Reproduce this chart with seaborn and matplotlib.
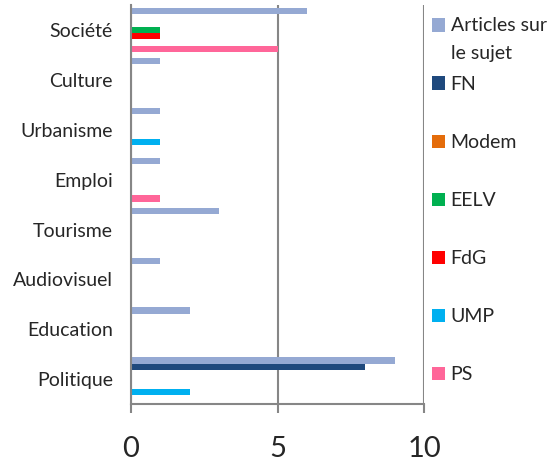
import numpy as np
import pandas as pd
import matplotlib
matplotlib.use('Agg')
import matplotlib.pyplot as plt
import matplotlib.patches as mpatches
from matplotlib.legend_handler import HandlerPatch
import seaborn as sns

# Data
categories = ["Société", "Culture", "Urbanisme", "Emploi", "Tourisme",
              "Audiovisuel", "Education", "Politique"]
series_names = ["Articles sur\nle sujet", "FN", "Modem", "EELV", "FdG", "UMP", "PS"]
articles = [6, 1, 1, 1, 3, 1, 2, 9]
fn = [0, 0, 0, 0, 0, 0, 0, 8]
modem = [0, 0, 0, 0, 0, 0, 0, 0]
eelv = [1, 0, 0, 0, 0, 0, 0, 0]
fdg = [1, 0, 0, 0, 0, 0, 0, 0]
ump = [0, 0, 1, 0, 0, 0, 0, 2]
ps = [5, 0, 0, 1, 0, 0, 0, 0]
colors = ["#95A9D3", "#1F497D", "#E46C0A", "#00B050", "#FF0000", "#00B0F0", "#FF6699"]

wide = pd.DataFrame({"categorie": categories})
for name, vals in zip(series_names, [articles, fn, modem, eelv, fdg, ump, ps]):
    wide[name] = vals
df = wide.melt(id_vars="categorie", var_name="serie", value_name="valeur")

sns.set_style("white")
plt.rcParams['font.family'] = ['Lato', 'DejaVu Sans']

fig = plt.figure(figsize=(5.55, 4.63), dpi=100)
ax = fig.add_axes([0.236, 0.127, 0.528, 0.862])

sns.barplot(data=df, x="valeur", y="categorie", hue="serie", order=categories,
            hue_order=series_names, palette=colors, orient="h", width=0.88,
            linewidth=0, saturation=1, ax=ax)

grey = "#868686"
ax.set_xlim(0, 10)
ax.set_ylim(7.5, -0.5)
ax.set_xticks([0, 5, 10])
ax.set_yticks(np.arange(-0.5, 8, 1), minor=True)
ax.set_xlabel("")
ax.set_ylabel("")
ax.xaxis.grid(True, color=grey, linewidth=1.5)
ax.set_axisbelow(True)
for s in ["top", "right"]:
    ax.spines[s].set_visible(False)
for s in ["left", "bottom"]:
    ax.spines[s].set_color(grey)
    ax.spines[s].set_linewidth(1.5)
ax.tick_params(axis="y", which="major", length=0, labelsize=14, pad=13)
ax.tick_params(axis="y", which="minor", length=4.5, width=1.5, color=grey, direction="out")
ax.tick_params(axis="x", length=6.5, width=1.5, color=grey, direction="out",
               labelsize=21, pad=16.5, bottom=True)


# handle of the two-line entry sits next to the first line
def top_line_patch(legend, orig_handle, xdescent, ydescent, width, height, fontsize):
    return mpatches.Rectangle((-xdescent, -ydescent + 10.5), width, height)


handles, labels = ax.get_legend_handles_labels()
ax.get_legend().remove()
leg_kw = dict(loc="upper left", bbox_transform=fig.transFigure, frameon=False,
              fontsize=14, handlelength=0.67, handleheight=0.67,
              handletextpad=0.3, borderaxespad=0, borderpad=0)
leg1 = fig.legend(handles[:1], labels[:1], bbox_to_anchor=(0.778, 0.963),
                  handler_map={handles[0]: HandlerPatch(patch_func=top_line_patch)},
                  **leg_kw)
for t in leg1.get_texts():
    t.set_linespacing(1.75)
fig.legend(handles[1:], labels[1:], bbox_to_anchor=(0.778, 0.836),
           labelspacing=2.11, **leg_kw)

fig.savefig("out.png", dpi=100)
